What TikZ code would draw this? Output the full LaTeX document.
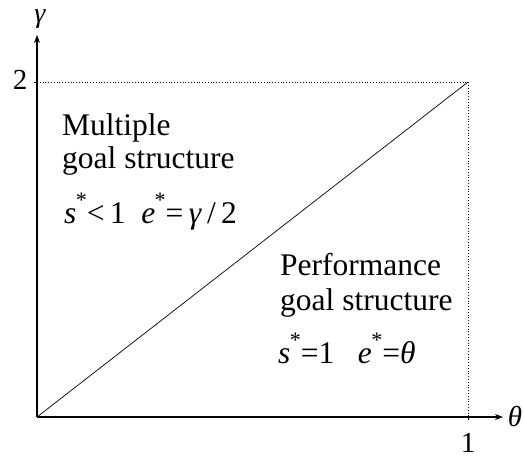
\documentclass[tikz,border=0pt]{standalone}
\usepackage{fontspec}
\setmainfont{Liberation Serif}
\usetikzlibrary{arrows.meta}
\newcommand{\mystar}{\kern-0.02em\raisebox{0.5em}{\scalebox{0.7}{*}}}
\begin{document}
\begin{tikzpicture}[x=1pt,y=-1pt,
  axis/.style={line width=1.1pt,-{Stealth[length=8pt,width=6pt]}},
  guide/.style={line width=0.8pt,dotted},
  lbl/.style={inner sep=0pt,font=\fontsize{30}{33}\selectfont},
  txt/.style={inner sep=0pt,anchor=base west,font=\fontsize{31.5}{33}\selectfont},
  tick/.style={inner sep=0pt,font=\fontsize{29}{30}\selectfont}]
\useasboundingbox (0,0) rectangle (524,458);
\coordinate (O) at (37,417);
\coordinate (ytop) at (37,35);
\coordinate (xend) at (503,417);
\coordinate (C) at (468,82);
\coordinate (Y2) at (37,82);
\coordinate (X1) at (468,417);
\draw[guide] (Y2) -- (C) -- (X1);
\draw[axis] (O) -- (ytop);
\draw[axis] (O) -- (xend);
\draw[line width=0.7pt] (O) -- (C);
\draw[line width=0.8pt] (Y2) -- ++(-3,0);
\draw[line width=0.8pt] (X1) -- ++(0,3);
\node[lbl,font=\fontsize{28}{30}\selectfont\itshape,anchor=base] (gam) at (40,22) {γ};
\node[lbl,font=\fontsize{29}{30}\selectfont\itshape] (the) at (515,416) {θ};
\node[tick] (two) at (20,80) {2};
\node[tick] (one) at (468,443) {1};
\node[txt] (m1) at (62,135) {Multiple};
\node[txt] (m2) at (62,168) {goal structure};
\node[txt] (m3) at (64,223) {\textit{s}\mystar<\,1\hspace{0.5em}\textit{e}\mystar=\,\textit{γ}\,/\,2};
\node[txt] (p1) at (280,275) {Performance};
\node[txt] (p2) at (280,310) {goal structure};
\node[txt] (p3) at (278,363) {\textit{s}\mystar=1\hspace{0.75em}\textit{e}\mystar=\textit{θ}};
\end{tikzpicture}
\end{document}
